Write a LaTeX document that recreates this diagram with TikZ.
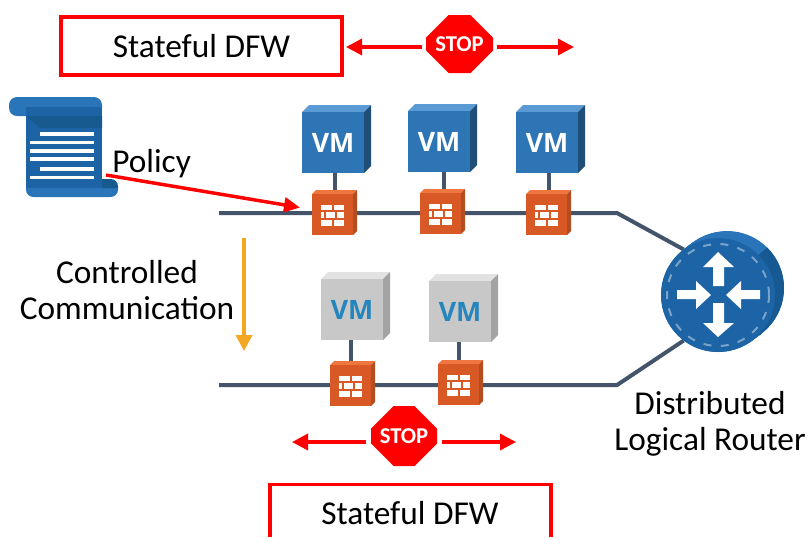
\documentclass[tikz,border=0pt]{standalone}
\usepackage{fontspec}
\setmainfont{Carlito}
\newfontfamily\vmfont{Open Sans}
\usetikzlibrary{arrows.meta,shapes.misc,backgrounds}
\definecolor{wire}{HTML}{44546A}
\definecolor{vred}{HTML}{FF0000}
\definecolor{fwf}{HTML}{D95926}
\definecolor{fwt}{HTML}{F0763F}
\definecolor{fws}{HTML}{B34D22}
\definecolor{bf}{HTML}{2E75B6}
\definecolor{bt}{HTML}{5B9BD5}
\definecolor{bs}{HTML}{1F4E79}
\definecolor{gf}{HTML}{C8C8C8}
\definecolor{gt}{HTML}{E2E2E2}
\definecolor{gs}{HTML}{A3A3A3}
\definecolor{vmtxt}{HTML}{2585BD}
\definecolor{rf}{HTML}{1C64A6}
\definecolor{rl}{HTML}{2A75B9}
\definecolor{rd}{HTML}{175A93}
\definecolor{rdash}{HTML}{7AA3C9}
\definecolor{sc}{HTML}{1C64A6}
\definecolor{scl}{HTML}{2A75B9}
\definecolor{scd}{HTML}{175A90}
\definecolor{orangearrow}{HTML}{F5A623}
\tikzset{
  lbl/.style={inner sep=0pt,font=\fontsize{25}{27}\selectfont,align=center},
  redbox/.style={draw=vred,line width=2.3pt,outer sep=0pt},
  redarrow/.style={vred,line width=2.6pt,-{Triangle[length=12pt,width=12pt]}},
  bus/.style={wire,line width=3pt},
  drop/.style={wire,line width=3pt},
  stopsign/.style={fill=vred,text=white,inner sep=0pt,outer sep=0pt,chamfered rectangle,
    chamfered rectangle xsep=12.75pt,chamfered rectangle ysep=11.25pt,
    font=\fontsize{17}{17}\selectfont\bfseries},
  brick/.style={fill=white,draw=none}
}
\newcommand{\cuboid}[8]{%
  \fill[#7] (#2,#3)--({#2+#6},{#3-#6})--({#2+#4+#6},{#3-#6})--({#2+#4},#3)--cycle;
  \fill[#8] ({#2+#4},#3)--({#2+#4+#6},{#3-#6})--({#2+#4+#6},{#3+#5-#6})--({#2+#4},{#3+#5})--cycle;
}
\newcommand{\vm}[6]{%
  \cuboid{#1}{#2}{#3}{62}{61}{7}{#5}{#6}
  \node[fill=#4,inner sep=0pt,outer sep=0pt,minimum width=46.5pt,minimum height=45.75pt,text=\vmc,
    font=\vmfont\fontsize{20}{20}\selectfont\bfseries] (#1) at ({#2+31},{#3+30.5}) {\raisebox{-0.8pt}{VM}};
}
\newcommand{\bricks}[2]{%
  \begin{scope}[shift={(#1,#2)}]
    \fill[brick] (9,10.7) rectangle (20,16);
    \fill[brick] (22,10.7) rectangle (32,16);
    \fill[brick] (9,18) rectangle (12.3,23.5);
    \fill[brick] (14,18) rectangle (23.3,23.5);
    \fill[brick] (25.3,18) rectangle (32,23.5);
    \fill[brick] (9,26) rectangle (20,32);
    \fill[brick] (22,26) rectangle (32,32);
  \end{scope}
}
\newcommand{\fw}[3]{%
  \cuboid{#1}{#2}{#3}{41}{41}{4}{fwt}{fws}
  \node[fill=fwf,inner sep=0pt,outer sep=0pt,minimum width=30.75pt,minimum height=30.75pt] (#1) at ({#2+20.5},{#3+20.5}) {};
  \bricks{#2}{#3}
}
\begin{document}
\begin{tikzpicture}[x=0.75pt,y=-0.75pt]
\useasboundingbox (0,0) rectangle (809,537);
% top box and stop
\node[redbox,minimum width=210.75pt,minimum height=43.5pt,inner sep=0pt,lbl] (boxT) at (201.5,46) {Stateful DFW};
\node[stopsign,minimum width=50.25pt,minimum height=43.5pt] (stopT) at (459.5,44) {\raisebox{-1pt}{STOP}};
\coordinate (tipTL) at (346,47);
\coordinate (tipTR) at (574,47);
\draw[redarrow] ([shift={(-4,3)}]stopT.west) -- (tipTL);
\draw[redarrow] ([shift={(4,3)}]stopT.east) -- (tipTR);
% scroll
\fill[scl,rounded corners=6pt] (9,97) rectangle (102,116);
\fill[sc] (26,107) rectangle (102,116);
\node[fill=sc,inner sep=0pt,outer sep=0pt,minimum width=57pt,minimum height=54pt] (scroll) at (64,152) {};
\fill[scl] (26,188) [rounded corners=5.5pt] -- (26,197) -- (118,197) [sharp corners] -- (118,188) -- cycle;
\fill[scd] (102,179) [rounded corners=5.5pt] -- (118,179) [sharp corners] -- (118,188) -- (102,188) -- cycle;
\fill[scd] (26,116) -- (102,116) -- (102,128) -- (40,128) -- cycle;
\foreach \yy/\xx in {134/40,142.3/30,150.7/30,158.7/30,168.7/40,177.3/30}
  \fill[white] (\xx,{\yy-1.8}) rectangle (94,{\yy+1.8});
\node[lbl,anchor=west] (policy) at (112,164) {Policy};
% router
\foreach \t in {0,0.1,...,1.01}
  \fill[rl] ({718+9*\t},{295-7*\t}) circle[radius=57];
\begin{scope}
  \clip (786,231) -- (759,255) -- (759,360) -- (800,360) -- (800,231) -- cycle;
  \foreach \t in {0,0.1,...,1.01}
    \fill[rd] ({718+9*\t},{295-7*\t}) circle[radius=57];
\end{scope}
\node[circle,fill=rf,inner sep=0pt,outer sep=0pt,minimum size=85.5pt] (router) at (718,295) {};
\draw[rdash,line width=1.5pt,dash pattern=on 6pt off 7pt] (718,295) circle[radius=51];
\fill[white] (718,252)--(734,267)--(724,267)--(724,286)--(713,286)--(713,267)--(703,267)--cycle;
\fill[white] (718,337)--(734,323)--(724,323)--(724,303)--(713,303)--(713,323)--(703,323)--cycle;
\fill[white] (711,295)--(696,281)--(696,290)--(677,290)--(677,299)--(696,299)--(696,309)--cycle;
\fill[white] (726,295)--(741,281)--(741,290)--(760,290)--(760,299)--(741,299)--(741,309)--cycle;
% VMs
\def\vmc{white}
\vm{vmA}{302}{112}{bf}{bt}{bs}
\vm{vmB}{408}{111}{bf}{bt}{bs}
\vm{vmC}{516}{112}{bf}{bt}{bs}
\def\vmc{vmtxt}
\vm{vmD}{321}{279}{gf}{gt}{gs}
\vm{vmE}{429}{281}{gf}{gt}{gs}
% firewalls
\fw{fwA}{312}{194}
\fw{fwB}{420}{193}
\fw{fwC}{526}{194}
\fw{fwD}{330}{365}
\fw{fwE}{438}{364}
% connectors
\coordinate (busA) at (219,213);
\coordinate (bendA) at (617,213);
\coordinate (busB) at (219,385);
\coordinate (bendB) at (617,385);
\begin{pgfonlayer}{background}
\draw[bus] (busA) -- (busA -| fwA.center) -- (busA -| fwB.center) -- (busA -| fwC.center) -- (bendA) -- (router.127);
\draw[bus] (busB) -- (busB -| fwD.center) -- (busB -| fwE.center) -- (bendB) -- (router.233);
\draw[drop] ([shift={(2,0)}]vmA.south) -- ([shift={(2,0)}]vmA.south |- fwA.north);
\draw[drop] ([shift={(5,0)}]vmB.south) -- ([shift={(5,0)}]vmB.south |- fwB.north);
\draw[drop] ([shift={(2,0)}]vmC.south) -- ([shift={(2,0)}]vmC.south |- fwC.north);
\draw[drop] ([shift={(-1,0)}]vmD.south) -- ([shift={(-1,0)}]vmD.south |- fwD.north);
\draw[drop] ([shift={(-1,0)}]vmE.south) -- ([shift={(-1,0)}]vmE.south |- fwE.north);
\end{pgfonlayer}
\draw[vred,line width=2.6pt,-{Triangle[length=12pt,width=11pt]}] ([shift={(4,-13)}]scroll.south east) -- ([shift={(-12,-7)}]fwA.west);
% left label and arrow
\node[lbl] (cc) at (127,290) {Controlled\\Communication};
\coordinate (orgA) at (244,238);
\coordinate (orgB) at (244,351);
\draw[orangearrow,line width=2.6pt,-{Triangle[length=12pt,width=12pt]}] (orgA) -- (orgB);
% router label
\node[lbl] (dlr) at (710,424) {Distributed\\Logical Router};
% bottom stop and box
\node[stopsign,minimum width=49.5pt,minimum height=45pt] (stopB) at (404,436) {STOP};
\coordinate (tipBL) at (292,442);
\coordinate (tipBR) at (516,442);
\draw[redarrow] ([shift={(-5,6)}]stopB.west) -- (tipBL);
\draw[redarrow] ([shift={(5,6)}]stopB.east) -- (tipBR);
\draw[draw=vred,line width=2.3pt] (270,537) -- (270,484.5) -- (551,484.5) -- (551,537);
\node[lbl] (boxB) at (410,513) {Stateful DFW};
\end{tikzpicture}
\end{document}
